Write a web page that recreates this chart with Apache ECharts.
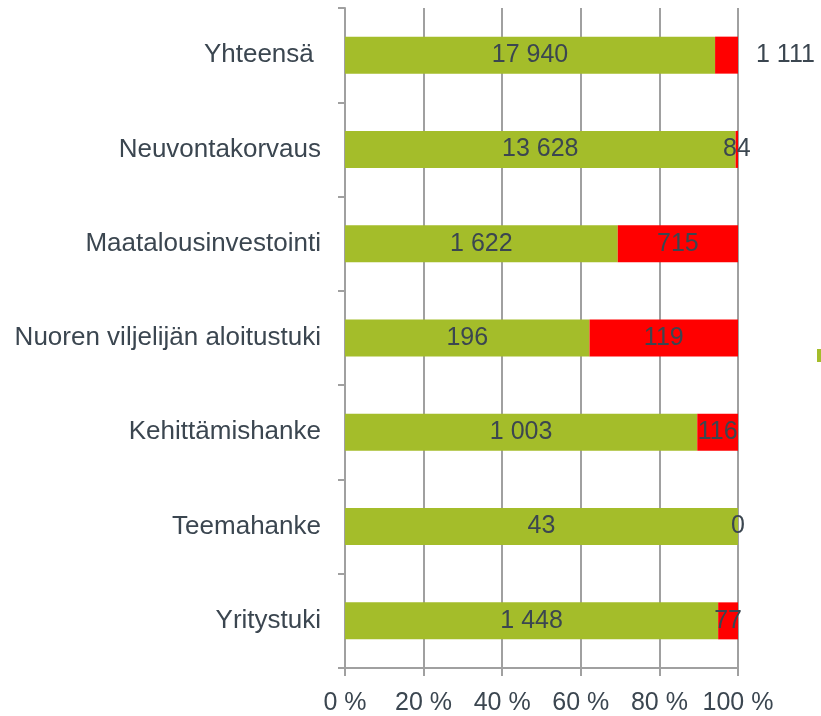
<!DOCTYPE html>
<html><head><meta charset="utf-8">
<script src="https://cdn.jsdelivr.net/npm/echarts@6/dist/echarts.min.js"></script>
<style>html,body{margin:0;padding:0;background:#fff}#c{width:821px;height:716px}</style>
</head><body><div id="c"></div>
<script>
const categories = ["Yhteensä ", "Neuvontakorvaus", "Maatalousinvestointi", "Nuoren viljelijän aloitustuki", "Kehittämishanke", "Teemahanke", "Yritystuki"];
const greenValues = [17940, 13628, 1622, 196, 1003, 43, 1448];
const redValues = [1111, 84, 715, 119, 116, 0, 77];
const xTicks = [0, 20, 40, 60, 80, 100];

const fmt = v => String(v).replace(/\B(?=(\d{3})+(?!\d))/g, ' ');
const totals = greenValues.map((g, i) => g + redValues[i]);
const textColor = '#3b4650';
const font = 'Liberation Sans, Arial, sans-serif';

const greenData = greenValues.map((g, i) => ({ value: g / totals[i] * 100, raw: g }));
const redData = redValues.map((r, i) => {
  const d = { value: r / totals[i] * 100, raw: r };
  if (i === 0) d.label = { position: 'right', distance: 18 };
  return d;
});

const chart = echarts.init(document.getElementById('c'));
chart.setOption({
  animation: false,
  grid: { left: 345, right: 83, top: 8, bottom: 47, containLabel: false },
  xAxis: {
    type: 'value', min: 0, max: 100, interval: 20,
    axisLine: { show: true, lineStyle: { color: '#a0a0a0', width: 2 } },
    axisTick: { show: true, length: 8, lineStyle: { color: '#a0a0a0', width: 2 } },
    splitLine: { show: true, lineStyle: { color: '#a0a0a0', width: 2 } },
    axisLabel: { formatter: v => xTicks.includes(v) ? v + ' %' : '', color: textColor, fontSize: 25, fontFamily: font, margin: 23 }
  },
  yAxis: {
    type: 'category', data: categories, inverse: true,
    axisLine: { show: true, lineStyle: { color: '#a0a0a0', width: 2 } },
    axisTick: { show: true, length: 7, lineStyle: { color: '#a0a0a0', width: 2 } },
    axisLabel: { color: textColor, fontSize: 26, fontFamily: font, margin: 24, padding: [3, 0, 0, 0] }
  },
  series: [
    {
      type: 'bar', stack: 't', barWidth: 37, data: greenData,
      itemStyle: { color: '#a4bd2a' },
      label: { show: true, position: 'inside', formatter: p => fmt(p.data.raw), color: textColor, fontSize: 25, fontFamily: font, padding: [3, 0, 0, 0] }
    },
    {
      type: 'bar', stack: 't', barWidth: 37, data: redData,
      itemStyle: { color: '#ff0000' },
      label: { show: true, position: 'inside', formatter: p => fmt(p.data.raw), color: textColor, fontSize: 25, fontFamily: font, padding: [3, 0, 0, 0] }
    }
  ],
  graphic: [{ type: 'rect', shape: { x: 817, y: 349, width: 4, height: 13 }, style: { fill: '#a4bd2a' } }]
});
</script></body></html>
